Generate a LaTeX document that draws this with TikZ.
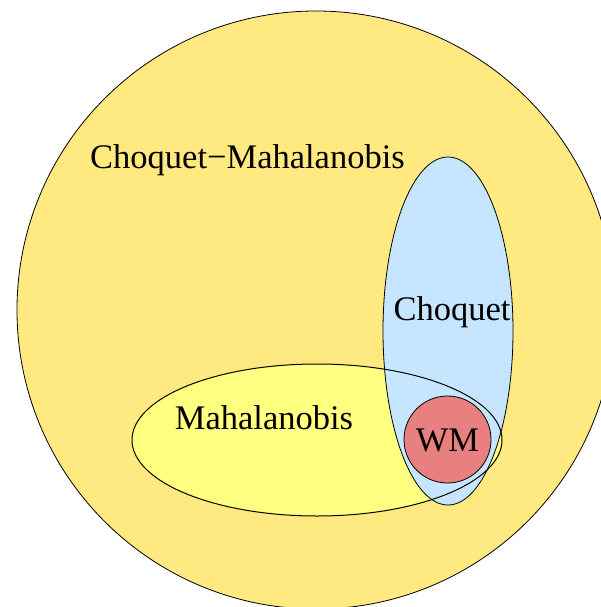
\documentclass[tikz,border=0pt]{standalone}
\usepackage{fontspec}
\setmainfont{Liberation Serif}
\definecolor{outerfill}{RGB}{255,233,128}
\definecolor{mahafill}{RGB}{255,255,128}
\definecolor{choqfill}{RGB}{198,230,255}
\definecolor{wmfill}{RGB}{232,128,128}
\begin{document}
\begin{tikzpicture}[x=1pt,y=-1pt,
  setline/.style={draw=black,line width=0.8pt},
  lbl/.style={font=\fontsize{34.5}{40}\selectfont,inner sep=0pt,anchor=base}]
\useasboundingbox (0,0) rectangle (601,607);
\begin{scope}
\clip (0,0) rectangle (601,607);
\fill[outerfill,setline] (316,310) circle (299);
\end{scope}
\fill[mahafill] (317,440) ellipse [x radius=185,y radius=76];
\fill[choqfill,setline] (448,331) ellipse [x radius=65,y radius=174];
\draw[black,line width=1pt] (317,440) ellipse [x radius=185,y radius=76];
\fill[wmfill,setline] (447.5,439.5) circle (43.5);
\node[lbl] (cm) at (247.5,168) {Choquet−Mahalanobis};
\node[lbl] (ch) at (452,320) {Choquet};
\node[lbl] (ma) at (264,429) {Mahalanobis};
\node[lbl] (wm) at (447.5,451) {WM};
\end{tikzpicture}
\end{document}
